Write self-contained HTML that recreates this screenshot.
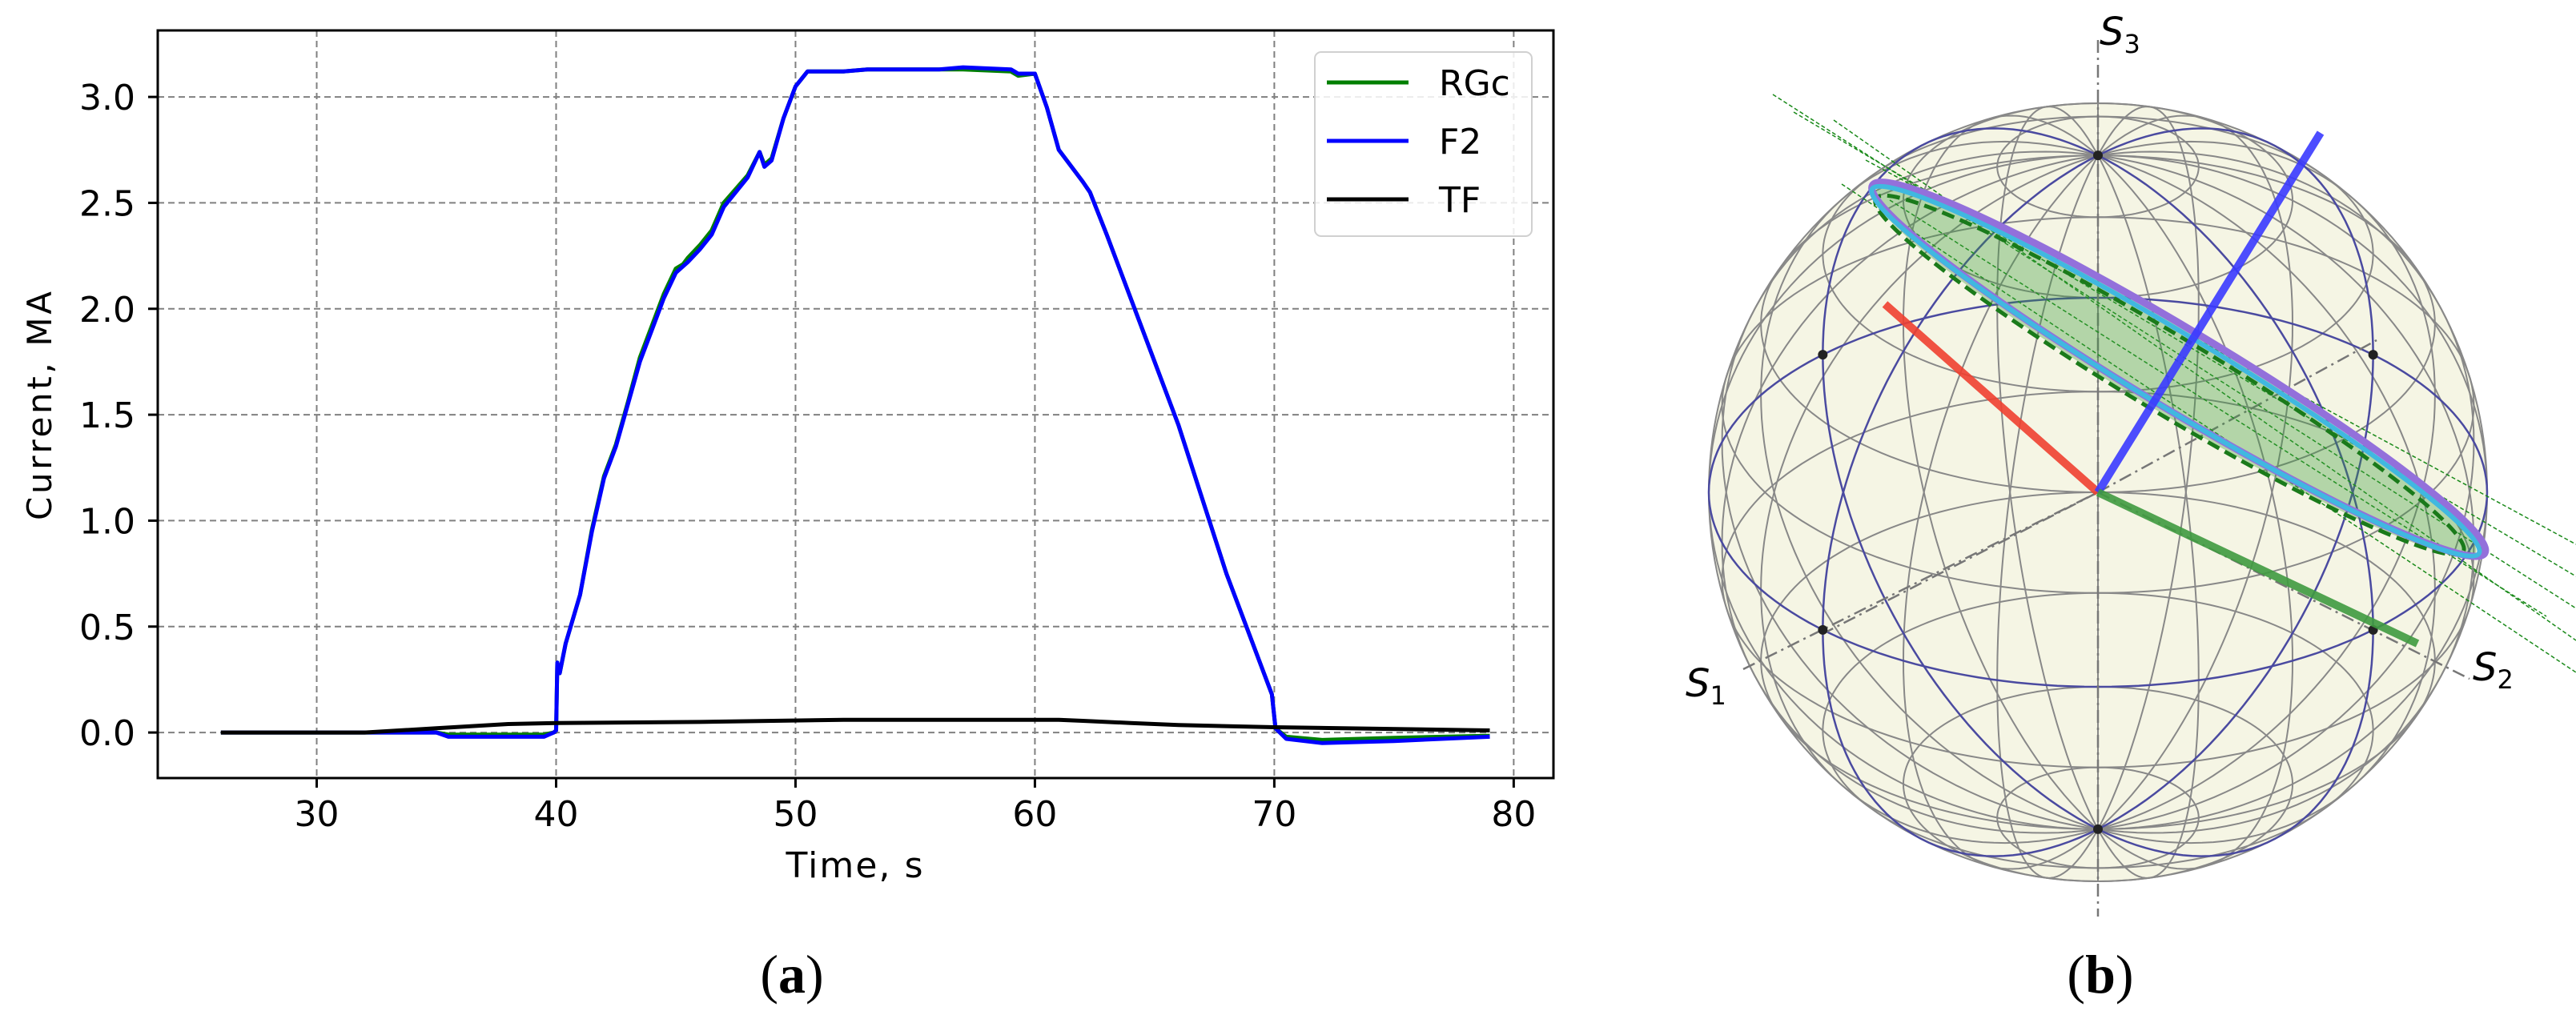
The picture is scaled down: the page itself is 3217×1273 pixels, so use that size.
<!DOCTYPE html>
<html><head><meta charset="utf-8"><style>
html,body{margin:0;padding:0;background:#fff;}
svg{display:block;}
</style></head><body>
<svg id="fig" width="3217" height="1273" viewBox="0 0 3217 1273" xmlns="http://www.w3.org/2000/svg" font-family="DejaVu Sans, Liberation Sans, sans-serif">
<g id="chartA"></g>
<g id="chartB"></g>
</svg>
<script>
const NS='http://www.w3.org/2000/svg';
function mk(parent,tag,attrs,txt){const e=document.createElementNS(NS,tag);for(const k in attrs)e.setAttribute(k,attrs[k]);if(txt!==undefined)e.textContent=txt;parent.appendChild(e);return e;}

// ---- Chart (a) data ----
const xTicks=[30,40,50,60,70,80];
const yTicks=[0.0,0.5,1.0,1.5,2.0,2.5,3.0];
const seriesNames=['RGc','F2','TF'];
const f2Time=[26,35,35.5,39.5,39.9,40.0,40.05,40.15,40.4,41,41.5,42,42.5,43,43.5,44,44.5,45,45.3,45.5,46,46.5,47,48,48.5,48.7,49,49.5,50,50.5,52,53,56,57,59,59.3,60,60.5,61,62,62.3,63,64,65,66,67,68,69,69.9,70.05,70.5,72,75,79];
const f2Vals=[0,0,-0.02,-0.02,0.0,0.01,0.33,0.28,0.42,0.65,0.95,1.2,1.35,1.55,1.75,1.9,2.05,2.17,2.2,2.22,2.28,2.35,2.48,2.62,2.74,2.67,2.7,2.9,3.05,3.12,3.12,3.13,3.13,3.14,3.13,3.11,3.11,2.95,2.75,2.6,2.55,2.35,2.05,1.75,1.45,1.1,0.75,0.45,0.18,0.02,-0.03,-0.05,-0.04,-0.02];
const rgcTime=[26,35,35.5,39.5,39.9,40.0,40.05,40.15,40.4,41,41.5,42,42.5,43,43.5,44,44.5,45,45.3,45.5,46,46.5,47,48,48.5,48.7,49,49.5,50,50.5,52,53,56,57,59,59.3,60,60.5,61,62,62.3,63,64,65,66,67,68,69,69.9,70.05,70.5,72,75,79];
const rgcVals=[0,0,-0.01,-0.01,0.0,0.01,0.33,0.28,0.42,0.65,0.96,1.21,1.36,1.56,1.77,1.92,2.07,2.19,2.21,2.24,2.3,2.37,2.5,2.63,2.74,2.68,2.71,2.9,3.05,3.12,3.12,3.13,3.13,3.13,3.12,3.1,3.11,2.95,2.75,2.6,2.55,2.35,2.05,1.75,1.45,1.1,0.75,0.45,0.18,0.02,-0.02,-0.035,-0.025,-0.015];
const tfTime=[26,32,35,38,40,46,52,61,62,64,66,70,79];
const tfVals=[0,0,0.02,0.04,0.045,0.05,0.06,0.06,0.055,0.045,0.035,0.025,0.01];

const PL=197,PR=1940,PT=38,PB=972;
const X0=23.36,X1=81.66,Y0=-0.215,Y1=3.314;
function sx(v){return PL+(v-X0)/(X1-X0)*(PR-PL);}
function sy(v){return PB-(v-Y0)/(Y1-Y0)*(PB-PT);}

const A=document.getElementById('chartA');
const grid=mk(A,'g',{});


xTicks.forEach(t=>{
  const l=mk(grid,'line',{x1:sx(t),x2:sx(t),y1:PT,y2:PB,stroke:'#808080','stroke-width':2,'stroke-dasharray':'8,5'});
  
  const tk=mk(A,'line',{x1:sx(t),x2:sx(t),y1:PB,y2:PB+12,stroke:'#000','stroke-width':3});
  
  const tx=mk(A,'text',{x:sx(t),y:PB+60,'font-size':44,'text-anchor':'middle',fill:'#000'},String(t));
  
});
yTicks.forEach(t=>{
  const l=mk(grid,'line',{x1:PL,x2:PR,y1:sy(t),y2:sy(t),stroke:'#808080','stroke-width':2,'stroke-dasharray':'8,5'});
  
  const tk=mk(A,'line',{x1:PL-12,x2:PL,y1:sy(t),y2:sy(t),stroke:'#000','stroke-width':3});
  
  const tx=mk(A,'text',{x:PL-28,y:sy(t)+16,'font-size':44,'text-anchor':'end',fill:'#000'},t.toFixed(1));
  
});
function series(times,vals,color,name){
  let d='';times.forEach((t,i)=>{d+=(i?'L':'M')+sx(t).toFixed(1)+','+sy(vals[i]).toFixed(1);});
  const p=mk(A,'path',{d:d,fill:'none',stroke:color,'stroke-width':5,'stroke-linejoin':'round'});
  
}
series(rgcTime,rgcVals,'#007f00','series-rgc');
series(f2Time,f2Vals,'#0000ff','series-f2');
series(tfTime,tfVals,'#000000','series-tf');
const frame=mk(A,'rect',{x:PL,y:PT,width:PR-PL,height:PB-PT,fill:'none',stroke:'#000','stroke-width':3});

const yl=mk(A,'text',{x:0,y:0,'font-size':42,'text-anchor':'middle',transform:'translate(64,507) rotate(-90)',textLength:286},'Current, MA');

const xl=mk(A,'text',{x:1067,y:1096,'font-size':44,'text-anchor':'middle',textLength:171},'Time, s');

const ca=mk(A,'text',{x:989,y:1240,'font-size':68,'text-anchor':'middle',style:'font-family:"Liberation Serif",serif'});

ca.innerHTML='(<tspan font-weight="bold">a</tspan>)';
// legend
const lg=mk(A,'g',{});

mk(lg,'rect',{x:1642,y:65,width:271,height:230,rx:8,fill:'#fff','fill-opacity':0.85,stroke:'#d0d0d0','stroke-width':2});
const legColors=['#007f00','#0000ff','#000000'];
const legY=[103,176,249];
seriesNames.forEach((n,i)=>{
  const g=mk(lg,'g',{});
  
  mk(g,'line',{x1:1657,x2:1759,y1:legY[i],y2:legY[i],stroke:legColors[i],'stroke-width':5});
  mk(g,'text',{x:1797,y:legY[i]+16,'font-size':44},n);
});

// ---- Panel (b) sphere ----
const B=document.getElementById('chartB');
const CX=2620,CY=615,R=486,EL=30*Math.PI/180;
function proj(lat,lon){
  const cl=Math.cos(lat),sl=Math.sin(lat);
  return [CX+R*cl*Math.sin(lon), CY-R*sl*Math.cos(EL)+R*cl*Math.cos(lon)*Math.sin(EL)];
}
const sph=mk(B,'circle',{cx:CX,cy:CY,r:R,fill:'#f5f5e4',stroke:'#888','stroke-width':2});

const deg=Math.PI/180;
function pathPts(pts){return pts.map((p,i)=>(i?'L':'M')+p[0].toFixed(1)+','+p[1].toFixed(1)).join('');}
const latGrid=[-75,-60,-45,-30,-15,15,30,45,60,75];
latGrid.forEach(la=>{
  const pts=[];for(let k=0;k<=180;k++)pts.push(proj(la*deg,k*2*deg));
  const p=mk(B,'path',{d:pathPts(pts),fill:'none',stroke:'#888','stroke-width':2});
  
});
for(let lo=0;lo<180;lo+=15){
  if(lo===45||lo===135)continue;
  const pts=[];for(let k=0;k<=180;k++)pts.push(proj((k*2-180)*deg,lo*deg));
  const pts2=[];for(let k=0;k<=180;k++)pts2.push(proj((k*2-180)*deg,(lo+180)*deg));
  const p=mk(B,'path',{d:pathPts(pts)+pathPts(pts2),fill:'none',stroke:'#888','stroke-width':2});
  
}
{
  const pts=[];for(let k=0;k<=180;k++)pts.push(proj(0,k*2*deg));
  const p=mk(B,'path',{d:pathPts(pts),fill:'none',stroke:'#4a4aa0','stroke-width':2.5});
  
  [45,135].forEach(lo=>{
    const q=[];for(let k=0;k<=180;k++)q.push(proj((k*2-180)*deg,lo*deg));
    const q2=[];for(let k=0;k<=180;k++)q2.push(proj((k*2-180)*deg,(lo+180)*deg));
    const m=mk(B,'path',{d:pathPts(q)+pathPts(q2),fill:'none',stroke:'#4a4aa0','stroke-width':2.5});
    
  });
}
const ax=[[CX,50,CX,1145],[2177,836,CX,CY],[CX,CY,3084,848],[CX,CY,2968,425],[CX,CY,2270,795]];
ax.forEach(a=>{const l=mk(B,'line',{x1:a[0],y1:a[1],x2:a[2],y2:a[3],stroke:'#777','stroke-width':2.5,'stroke-dasharray':'16,6,3,6'});
});
[[0,-45],[0,45],[0,135],[0,-135],[90,0],[-90,0]].forEach(d=>{const p=proj(d[0]*deg,d[1]*deg);
const c=mk(B,'circle',{cx:p[0],cy:p[1],r:6,fill:'#222'});});
const fan=[[2214,118,3217,760],[2240,140,3217,720],[2290,150,3217,800],[2330,200,3217,680],[2300,230,3217,840],[2360,250,3180,770]];
fan.forEach(f=>{const l=mk(B,'line',{x1:f[0],y1:f[1],x2:f[2],y2:f[3],stroke:'#1a8a1a','stroke-width':1.5,'stroke-dasharray':'5,3'});
});
const eg=mk(B,'g',{transform:'translate(2718,462) rotate(31)'});

mk(eg,'ellipse',{cx:0,cy:4,rx:438,ry:52,fill:'#3a9a3a','fill-opacity':0.35,stroke:'none'});
mk(eg,'ellipse',{cx:-4,cy:10,rx:428,ry:48,fill:'none',stroke:'#1a7a1a','stroke-width':5,'stroke-dasharray':'16,8'});
mk(eg,'ellipse',{cx:2,cy:-2,rx:446,ry:50,fill:'none',stroke:'#9370db','stroke-width':9});
mk(eg,'ellipse',{cx:0,cy:2,rx:442,ry:46,fill:'none',stroke:'#40b8e0','stroke-width':6});
const vecs=[[2354,380,'#f04030','red-vector'],[2898,166,'#3a3aff','blue-vector'],[3019,804,'#3f9a3f','green-vector']];
vecs.forEach(v=>{const l=mk(B,'line',{x1:CX,y1:CY,x2:v[0],y2:v[1],stroke:v[2],'stroke-width':10,'stroke-opacity':0.9});
});
function lbl(x,y,t,name){const e=mk(B,'text',{x:x,y:y,'font-size':48,'font-style':'italic'});
e.innerHTML=t;}
lbl(2622,56,'S<tspan font-size="32" dy="10" font-style="normal">3</tspan>','s3-label');
lbl(2105,870,'S<tspan font-size="32" dy="10" font-style="normal">1</tspan>','s1-label');
lbl(3088,850,'S<tspan font-size="32" dy="10" font-style="normal">2</tspan>','s2-label');
const cb=mk(B,'text',{x:2623,y:1240,'font-size':68,'text-anchor':'middle',style:'font-family:"Liberation Serif",serif'});
cb.innerHTML='(<tspan font-weight="bold">b</tspan>)';

</script>
</body></html>
